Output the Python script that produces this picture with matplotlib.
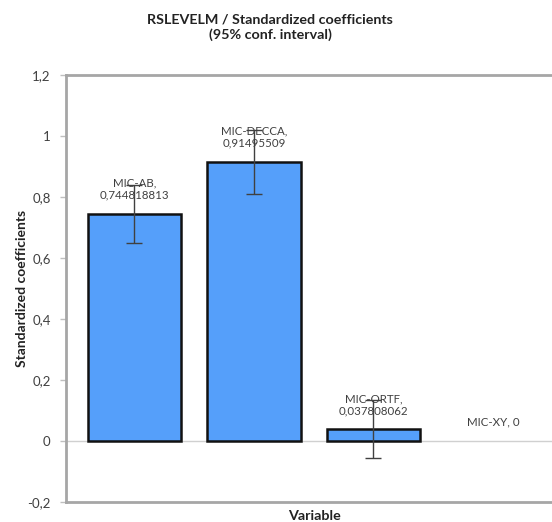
import matplotlib
matplotlib.use("Agg")
import matplotlib.pyplot as plt

plt.rcParams['font.family'] = ['Lato', 'DejaVu Sans']

variables = ["MIC-AB", "MIC-DECCA", "MIC-ORTF", "MIC-XY"]
coefficients = [0.744818813, 0.91495509, 0.037808062, 0.0]
value_labels = ["0,744818813", "0,91495509", "0,037808062", "0"]
conf_half = [0.095, 0.105, 0.095, 0.0]
yticks = [-0.2, 0, 0.2, 0.4, 0.6, 0.8, 1.0, 1.2]
ytick_labels = ["-0,2", "0", "0,2", "0,4", "0,6", "0,8", "1", "1,2"]

W, H = 552, 522
fig = plt.figure(figsize=(W / 100, H / 100), dpi=100)
ax = fig.add_axes([66 / W, 20 / H, (568 - 66) / W, (502 - 75) / H])

x = list(range(len(variables)))
bar_color = "#559ffa"
edge_widths = [1.8 if v != 0 else 0 for v in coefficients]
ax.bar(x, coefficients, width=0.78, color=bar_color, edgecolor="#111111",
       linewidth=edge_widths, zorder=3)
ax.errorbar(x[:3], coefficients[:3], yerr=conf_half[:3], fmt="none",
            ecolor="#404040", elinewidth=1.0, capsize=5.5, capthick=1.0, zorder=4)

ax.axhline(0, color="#d0d0d0", linewidth=1.0, zorder=2)

for xi, name, v, lab in zip(x, variables, coefficients, value_labels):
    if v == 0:
        text = f"{name}, {lab}"
    else:
        text = f"{name},\n{lab}"
    ax.annotate(text, (xi, v), xytext=(0, 9.5), textcoords="offset points",
                ha="center", va="bottom", fontsize=8.3, color="#404040",
                linespacing=1.15, zorder=5)

ax.set_xlim(-0.573, 3.628)
ax.set_ylim(-0.2, 1.2)
ax.set_xticks([])
ax.set_yticks(yticks)
ax.set_yticklabels(ytick_labels, fontsize=9.5, color="#404040")
ax.tick_params(axis="y", length=4, width=1, color="#bfbfbf", pad=7)

for side in ["left", "right", "top", "bottom"]:
    ax.spines[side].set_color("#a6a6a6")
    ax.spines[side].set_linewidth(2.0)

fig.text(22 / W, 1 - 288 / H, "Standardized coefficients", rotation=90,
         ha="center", va="center", fontsize=10, fontweight="bold", color="#222222")
fig.text(314 / W, 1 - 516 / H, "Variable", ha="center", va="center",
         fontsize=10.3, fontweight="bold", color="#222222")

fig.text(270 / W, 1 - 27 / H, "RSLEVELM / Standardized coefficients\n(95% conf. interval)",
         ha="center", va="center", fontsize=10.3, fontweight="bold",
         color="#222222", linespacing=1.3)

fig.savefig("out.png", dpi=100)
